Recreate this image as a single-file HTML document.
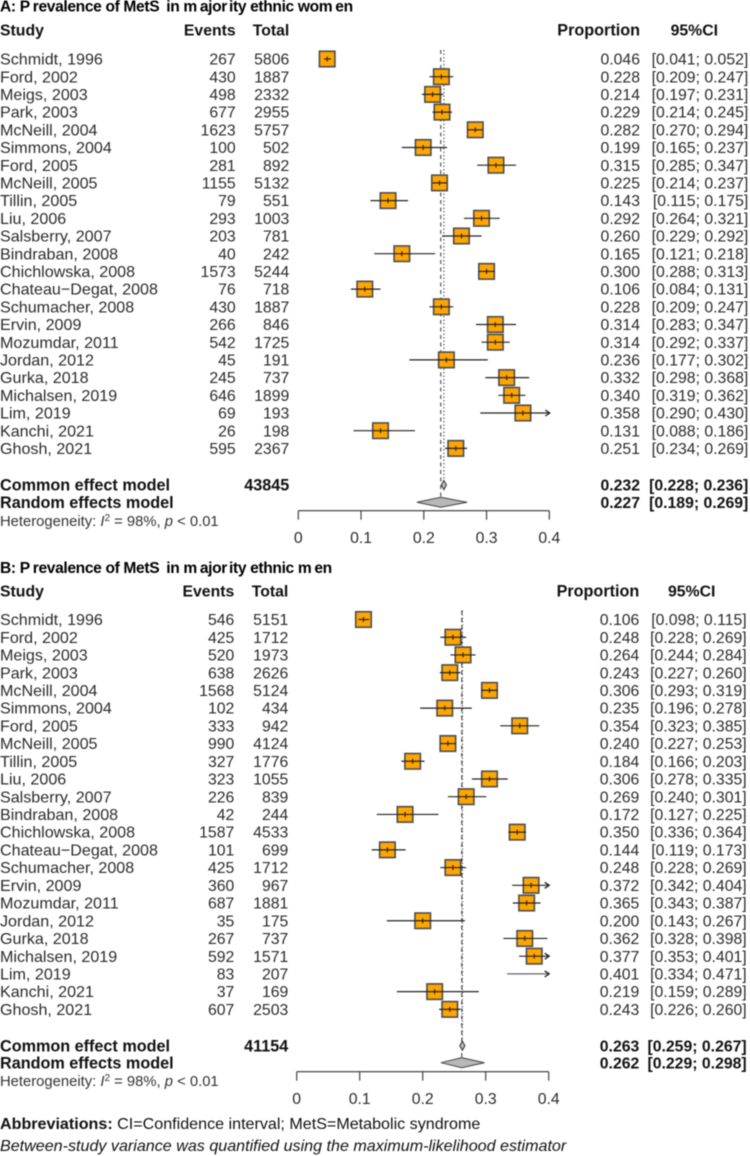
<!DOCTYPE html>
<html lang="en">
<head>
<meta charset="utf-8">
<title>Prevalence of MetS forest plots</title>
<style>
html,body{margin:0;padding:0;background:#fff;width:750px;height:1156px;overflow:hidden}
svg{display:block;filter:blur(0.4px)}
text{font-family:"Liberation Sans",sans-serif;font-size:15.8px;fill:#2b2b2b}
.study{font-size:16.1px}
.b{font-weight:bold;fill:#111}
.sum{font-size:16.2px}
.ttl{font-weight:bold;font-size:15.6px;fill:#000;letter-spacing:-0.36px}
.het{font-size:14.8px;fill:#333}
.foot{font-size:16.1px;fill:#111}
.sup{font-size:10px}
</style>
</head>
<body>
<svg id="chart" xmlns="http://www.w3.org/2000/svg" width="750" height="1156" viewBox="0 0 750 1156">
  <text class="ttl" x="0" y="11.5">A: P<tspan dx="3">revalence of MetS</tspan> <tspan dx="3">in m</tspan><tspan dx="3">ajor</tspan><tspan dx="2">ity ethnic wom</tspan><tspan dx="3">en</tspan></text>
  <text class="ttl" x="0" y="573">B: P<tspan dx="3">revalence of MetS</tspan> <tspan dx="3">in m</tspan><tspan dx="3">ajor</tspan><tspan dx="2">ity ethnic m</tspan><tspan dx="3">en</tspan></text>
  <text class="foot" x="0" y="1129"><tspan font-weight="bold">Abbreviations:</tspan> CI=Confidence interval; MetS=Metabolic syndrome</text>
  <text class="foot" x="0" y="1151" font-style="italic">Between-study variance was quantified using the maximum-likelihood estimator</text>
</svg>
<script>
const studies = ["Schmidt, 1996","Ford, 2002","Meigs, 2003","Park, 2003","McNeill, 2004","Simmons, 2004","Ford, 2005","McNeill, 2005","Tillin, 2005","Liu, 2006","Salsberry, 2007","Bindraban, 2008","Chichlowska, 2008","Chateau\u2212Degat, 2008","Schumacher, 2008","Ervin, 2009","Mozumdar, 2011","Jordan, 2012","Gurka, 2018","Michalsen, 2019","Lim, 2019","Kanchi, 2021","Ghosh, 2021"];
const tickValues = [0,0.1,0.2,0.3,0.4];
const tickLabels = ["0","0.1","0.2","0.3","0.4"];

const womenEvents = [267,430,498,677,1623,100,281,1155,79,293,203,40,1573,76,430,266,542,45,245,646,69,26,595];
const womenTotals = [5806,1887,2332,2955,5757,502,892,5132,551,1003,781,242,5244,718,1887,846,1725,191,737,1899,193,198,2367];
const womenProp = [0.046,0.228,0.214,0.229,0.282,0.199,0.315,0.225,0.143,0.292,0.260,0.165,0.300,0.106,0.228,0.314,0.314,0.236,0.332,0.340,0.358,0.131,0.251];
const womenLower = [0.041,0.209,0.197,0.214,0.270,0.165,0.285,0.214,0.115,0.264,0.229,0.121,0.288,0.084,0.209,0.283,0.292,0.177,0.298,0.319,0.290,0.088,0.234];
const womenUpper = [0.052,0.247,0.231,0.245,0.294,0.237,0.347,0.237,0.175,0.321,0.292,0.218,0.313,0.131,0.247,0.347,0.337,0.302,0.368,0.362,0.430,0.186,0.269];
const womenTotalN = 43845;
const womenCommon = [0.232,0.228,0.236];
const womenRandom = [0.227,0.189,0.269];

const menEvents = [546,425,520,638,1568,102,333,990,327,323,226,42,1587,101,425,360,687,35,267,592,83,37,607];
const menTotals = [5151,1712,1973,2626,5124,434,942,4124,1776,1055,839,244,4533,699,1712,967,1881,175,737,1571,207,169,2503];
const menProp = [0.106,0.248,0.264,0.243,0.306,0.235,0.354,0.240,0.184,0.306,0.269,0.172,0.350,0.144,0.248,0.372,0.365,0.200,0.362,0.377,0.401,0.219,0.243];
const menLower = [0.098,0.228,0.244,0.227,0.293,0.196,0.323,0.227,0.166,0.278,0.240,0.127,0.336,0.119,0.228,0.342,0.343,0.143,0.328,0.353,0.334,0.159,0.226];
const menUpper = [0.115,0.269,0.284,0.260,0.319,0.278,0.385,0.253,0.203,0.335,0.301,0.225,0.364,0.173,0.269,0.404,0.387,0.267,0.398,0.401,0.471,0.289,0.260];
const menTotalN = 41154;
const menCommon = [0.263,0.259,0.267];
const menRandom = [0.262,0.229,0.298];

const NS = "http://www.w3.org/2000/svg";
const root = document.getElementById("chart");

function mk(parent, tag, attrs, txt) {
  const el = document.createElementNS(NS, tag);
  for (const k in attrs) el.setAttribute(k, attrs[k]);
  if (txt !== undefined) el.textContent = txt;
  parent.appendChild(el);
  return el;
}
function f3(v) { return v.toFixed(3); }
function ciText(lo, hi) { return "[" + f3(lo) + "; " + f3(hi) + "]"; }

function drawPanel(p) {
  const x = v => p.x0 + v * p.scale;
  const y = i => p.rowTop + i * p.rowStep;
  const axisMax = tickValues[tickValues.length - 1];

  const panel = mk(root, "g", {});
  
  

  const hStudy = mk(panel, "text", {x: 0, y: p.headerY, class: "b"}, "Study");
  
  
  const hEvents = mk(panel, "text", {x: p.eventsX, y: p.headerY, class: "b", "text-anchor": "end"}, "Events");
  
  
  const hTotal = mk(panel, "text", {x: p.totalX, y: p.headerY, class: "b", "text-anchor": "end"}, "Total");
  
  
  const hProp = mk(panel, "text", {x: p.propX, y: p.headerY, class: "b sum", "text-anchor": "end"}, "Proportion");
  
  
  const hCi = mk(panel, "text", {x: p.ciHeadX, y: p.headerY, class: "b", "text-anchor": "middle"}, "95%CI");
  
  

  const commonLine = mk(panel, "line", {x1: x(p.common[0]), x2: x(p.common[0]), y1: p.rowTop - 9, y2: p.commonY - 4, stroke: "#444", "stroke-width": 1, "stroke-dasharray": "1.5 2"});
  
  
  const randomLine = mk(panel, "line", {x1: x(p.random[0]), x2: x(p.random[0]), y1: p.rowTop - 9, y2: p.randomY - 5, stroke: "#333", "stroke-width": 1, "stroke-dasharray": "4 3.5"});
  
  

  studies.forEach((s, i) => {
    const cy = y(i);
    const base = cy + 5.6;
    const row = mk(panel, "g", {});
    
    

    const label = mk(row, "text", {x: 0, y: base, class: "study"}, s);
    
    
    const ev = mk(row, "text", {x: p.eventsX, y: base, "text-anchor": "end"}, String(p.events[i]));
    
    
    const tot = mk(row, "text", {x: p.totalX, y: base, "text-anchor": "end"}, String(p.totals[i]));
    
    
    const pr = mk(row, "text", {x: p.propX, y: base, "text-anchor": "end"}, f3(p.prop[i]));
    
    
    const ci = mk(row, "text", {x: p.ciX, y: base, "text-anchor": "end"}, ciText(p.lower[i], p.upper[i]));
    
    

    const inRange = p.prop[i] <= axisMax;
    if (inRange) {
      const box = mk(row, "rect", {x: x(p.prop[i]) - 7.75, y: cy - 7.75, width: 15.5, height: 15.5, fill: "#ffa500", stroke: "#4d4d4d", "stroke-width": 1.6});
      
      
      const tick = mk(row, "line", {x1: x(p.prop[i]), x2: x(p.prop[i]), y1: cy - 2.5, y2: cy + 2.5, stroke: "#222", "stroke-width": 1.1});
      
      
    }
    const clipped = p.upper[i] > axisMax;
    const hi = clipped ? axisMax : p.upper[i];
    const whisker = mk(row, "line", {x1: x(p.lower[i]), x2: x(hi), y1: cy, y2: cy, stroke: inRange ? "#222" : "#666", "stroke-width": 1.2});
    
    
    if (clipped) {
      const ax = x(axisMax);
      const arrow = mk(row, "path", {d: "M" + (ax - 4) + " " + (cy - 3) + "L" + (ax + 0.5) + " " + cy + "L" + (ax - 4) + " " + (cy + 3), fill: "none", stroke: "#222", "stroke-width": 1.3});
      
      
    }
  });

  const cLabel = mk(panel, "text", {x: 0, y: p.commonY + 5.6, class: "b sum"}, "Common effect model");
  
  
  const cTotal = mk(panel, "text", {x: p.totalX, y: p.commonY + 5.6, class: "b sum", "text-anchor": "end"}, String(p.totalN));
  
  
  const cProp = mk(panel, "text", {x: p.propX, y: p.commonY + 5.6, class: "b", "text-anchor": "end"}, f3(p.common[0]));
  
  
  const cCi = mk(panel, "text", {x: p.ciX, y: p.commonY + 5.6, class: "b", "text-anchor": "end"}, ciText(p.common[1], p.common[2]));
  
  
  const cDia = mk(panel, "polygon", {points: [x(p.common[1]) + "," + p.commonY, x(p.common[0]) + "," + (p.commonY - 4.5), x(p.common[2]) + "," + p.commonY, x(p.common[0]) + "," + (p.commonY + 4.5)].join(" "), fill: "#c0c0c0", stroke: "#444", "stroke-width": 1.2});
  
  

  const rLabel = mk(panel, "text", {x: 0, y: p.randomY + 5.6, class: "b sum"}, "Random effects model");
  
  
  const rProp = mk(panel, "text", {x: p.propX, y: p.randomY + 5.6, class: "b", "text-anchor": "end"}, f3(p.random[0]));
  
  
  const rCi = mk(panel, "text", {x: p.ciX, y: p.randomY + 5.6, class: "b", "text-anchor": "end"}, ciText(p.random[1], p.random[2]));
  
  
  const rDia = mk(panel, "polygon", {points: [x(p.random[1]) + "," + p.randomY, x(p.random[0]) + "," + (p.randomY - 5), x(p.random[2]) + "," + p.randomY, x(p.random[0]) + "," + (p.randomY + 5)].join(" "), fill: "#b8b8b8", stroke: "#444", "stroke-width": 1});
  
  

  const het = mk(panel, "text", {x: 0, y: p.randomY + 23.5, class: "het"});
  
  
  mk(het, "tspan", {}, "Heterogeneity: ");
  mk(het, "tspan", {"font-style": "italic"}, "I");
  mk(het, "tspan", {class: "sup", dy: -5}, "2");
  mk(het, "tspan", {dy: 5}, " = 98%, ");
  mk(het, "tspan", {"font-style": "italic"}, "p");
  mk(het, "tspan", {}, " < 0.01");

  const axis = mk(panel, "g", {});
  
  
  const axisLine = mk(axis, "line", {x1: x(tickValues[0]), x2: x(axisMax), y1: p.axisY, y2: p.axisY, stroke: "#333", "stroke-width": 1.1});
  
  
  tickValues.forEach((v, i) => {
    const t = mk(axis, "line", {x1: x(v), x2: x(v), y1: p.axisY, y2: p.axisY + 9, stroke: "#333", "stroke-width": 1.1});
    
    
    const l = mk(axis, "text", {x: x(v), y: p.axisY + 32.5, "text-anchor": "middle"}, tickLabels[i]);
    
    
  });
}

drawPanel({name: "women", events: womenEvents, totals: womenTotals, prop: womenProp, lower: womenLower, upper: womenUpper, totalN: womenTotalN, common: womenCommon, random: womenRandom,
  x0: 298.3, scale: 627.5, rowTop: 59, rowStep: 17.7, headerY: 35.6, commonY: 485, randomY: 502.3, axisY: 510.7,
  eventsX: 235.7, totalX: 289.3, propX: 640, ciX: 748.3, ciHeadX: 694.3});
drawPanel({name: "men", events: menEvents, totals: menTotals, prop: menProp, lower: menLower, upper: menUpper, totalN: menTotalN, common: menCommon, random: menRandom,
  x0: 296.7, scale: 630, rowTop: 619.5, rowStep: 17.72, headerY: 596.6, commonY: 1045.7, randomY: 1062.7, axisY: 1071.7,
  eventsX: 234.3, totalX: 288.3, propX: 639.3, ciX: 746.7, ciHeadX: 691.7});
</script>
</body>
</html>
